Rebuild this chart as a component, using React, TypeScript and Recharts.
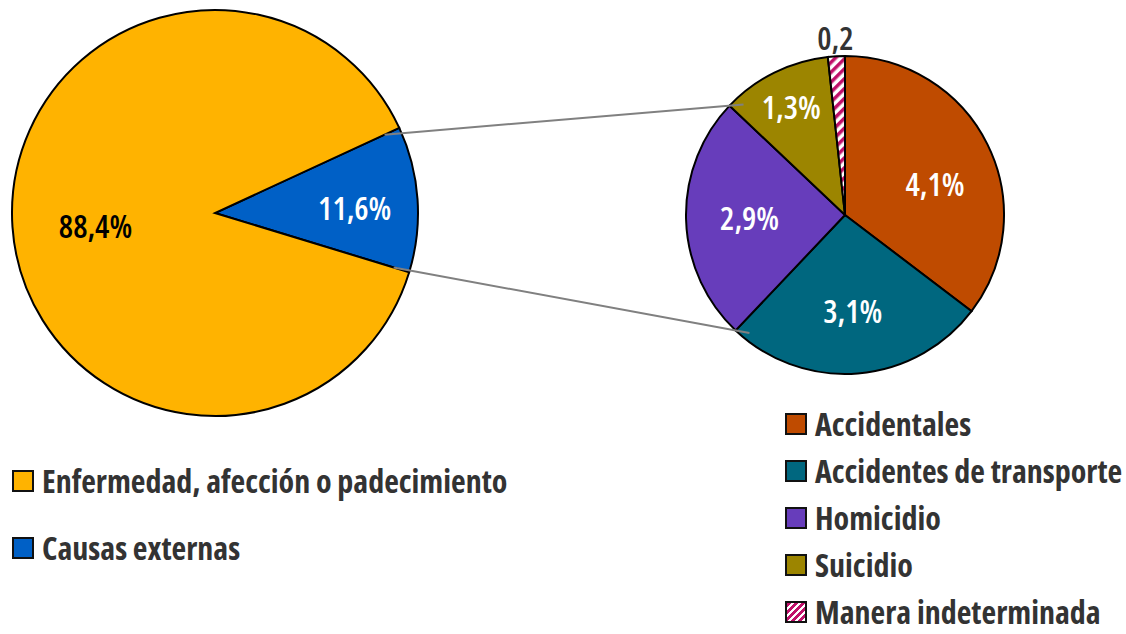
import React from 'react';
import { PieChart, Pie, Cell } from 'recharts';

const mainNames = ['Causas externas', 'Enfermedad, afección o padecimiento'];
const mainValues = [11.6, 88.4];
const mainColors = ['#0060C6', '#FFB300'];

const extNames = ['Accidentales', 'Accidentes de transporte', 'Homicidio', 'Suicidio', 'Manera indeterminada'];
const extValues = [4.1, 3.1, 2.9, 1.3, 0.2];
const extColors = ['#BF4B00', '#00677F', '#673DBB', '#9C8500', 'url(#hatch)'];

const leftLegend = [1, 0]; // order shown under the big pie

const mainData = mainNames.map((name, i) => ({ name, value: mainValues[i] }));
const extData = extNames.map((name, i) => ({ name, value: extValues[i] }));

const W = 1126;
const H = 634;
const L = { cx: 215, cy: 213, r: 203 };
const R = { cx: 845, cy: 215, r: 159 };
const blueSweep = (360 * mainValues[0]) / (mainValues[0] + mainValues[1]);
const leftStart = 24.8;
const RAD = Math.PI / 180;
const FONT = '"Open Sans", sans-serif';
const TEXT = '#333333';

const fmt = (v: number, pct = true) => v.toFixed(1).replace('.', ',') + (pct ? '%' : '');

const pt = (c: { cx: number; cy: number }, r: number, a: number) => ({
  x: c.cx + r * Math.cos(a * RAD),
  y: c.cy - r * Math.sin(a * RAD),
});

const labelStyle: React.CSSProperties = { fontFamily: FONT, fontSize: 32, fontWeight: 600, fontStretch: 'condensed' };

const mainLabel = (p: any) => {
  const f = p.index === 0 ? 0.69 : 0.59;
  const q = pt({ cx: p.cx, cy: p.cy }, p.outerRadius * f, p.midAngle);
  return (
    <text x={q.x} y={q.y + 4} fill={p.index === 0 ? '#fff' : '#000'} textAnchor="middle" dominantBaseline="central" style={labelStyle}>
      {fmt(p.value)}
    </text>
  );
};

const extLabel = (p: any) => {
  const outside = p.value < 0.5;
  const f = outside ? 1.12 : p.value < 2 ? 0.76 : 0.6;
  // the largest slice's label sits a little below its middle, as in the source
  const a = p.index === 0 ? p.midAngle - 7 : p.midAngle;
  const q = pt({ cx: p.cx, cy: p.cy }, p.outerRadius * f, a);
  return (
    <text x={q.x} y={q.y} fill={outside ? TEXT : '#fff'} textAnchor="middle" dominantBaseline="central" style={labelStyle}>
      {fmt(p.value, !outside)}
    </text>
  );
};

// lines from the edges of the small slice to the matching edges of the breakdown pie
const Connectors = () => {
  const total = extValues.reduce((a, b) => a + b, 0);
  const cum = (n: number) => extValues.slice(0, n).reduce((a, b) => a + b, 0);
  const upperB = 90 - (360 * cum(3)) / total;
  const lowerB = 90 - (360 * cum(2)) / total;
  const seg = (a1: number, a2: number) => {
    const s = pt(L, L.r * 0.92, a1);
    const e = pt(R, R.r, a2);
    const dx = e.x - s.x;
    const dy = e.y - s.y;
    const len = Math.hypot(dx, dy);
    return { x1: s.x, y1: s.y, x2: e.x + (dx / len) * 14, y2: e.y + (dy / len) * 14 };
  };
  const up = seg(leftStart, upperB);
  const lo = seg(leftStart - blueSweep, lowerB);
  return (
    <svg width={W} height={H} style={{ position: 'absolute', left: 0, top: 0, pointerEvents: 'none' }}>
      <line {...up} stroke="#808080" strokeWidth={2} />
      <line {...lo} stroke="#808080" strokeWidth={2} />
    </svg>
  );
};

const Swatch = ({ color }: { color: string }) => (
  <div
    style={{
      width: 18,
      height: 18,
      border: '2px solid #111',
      marginRight: 8,
      flexShrink: 0,
      background:
        color === 'url(#hatch)'
          ? 'repeating-linear-gradient(-45deg, #fff 0 2.5px, #C0116A 2.5px 5px)'
          : color,
    }}
  />
);

const legendText: React.CSSProperties = {
  fontFamily: FONT,
  fontWeight: 700,
  fontStretch: 'condensed',
  fontSize: 32,
  color: TEXT,
  whiteSpace: 'nowrap',
  lineHeight: 0.85,
};

export default function App() {
  return (
    <div style={{ position: 'absolute', left: 0, top: 0, width: W, height: H, background: '#fff' }}>
      <PieChart width={W} height={H} margin={{ top: 0, right: 0, bottom: 0, left: 0 }}>
        <defs>
          <pattern id="hatch" patternUnits="userSpaceOnUse" width="7" height="7" patternTransform="rotate(45)">
            <rect width="7" height="7" fill="#fff" />
            <rect width="3.5" height="7" fill="#C0116A" />
          </pattern>
        </defs>
        <Pie
          data={mainData}
          dataKey="value"
          cx={L.cx}
          cy={L.cy}
          outerRadius={L.r}
          startAngle={leftStart}
          endAngle={leftStart - 360}
          stroke="#000"
          strokeWidth={2}
          label={mainLabel}
          labelLine={false}
          isAnimationActive={false}
        >
          {mainData.map((d, i) => (
            <Cell key={d.name} fill={mainColors[i]} />
          ))}
        </Pie>
        <Pie
          data={extData}
          dataKey="value"
          cx={R.cx}
          cy={R.cy}
          outerRadius={R.r}
          startAngle={90}
          endAngle={-270}
          stroke="#000"
          strokeWidth={2}
          label={extLabel}
          labelLine={false}
          isAnimationActive={false}
        >
          {extData.map((d, i) => (
            <Cell key={d.name} fill={extColors[i]} />
          ))}
        </Pie>
      </PieChart>
      <Connectors />

      <div style={{ position: 'absolute', left: 12, top: 462 }}>
        {leftLegend.map((i) => (
          <div key={mainNames[i]} style={{ display: 'flex', alignItems: 'center', height: 38, marginBottom: 29 }}>
            <Swatch color={mainColors[i]} />
            <span style={legendText}>{mainNames[i]}</span>
          </div>
        ))}
      </div>

      <div style={{ position: 'absolute', left: 785, top: 405 }}>
        {extNames.map((n, i) => (
          <div key={n} style={{ display: 'flex', alignItems: 'center', height: 38, marginBottom: 9 }}>
            <Swatch color={extColors[i]} />
            <span style={legendText}>{n}</span>
          </div>
        ))}
      </div>
    </div>
  );
}
